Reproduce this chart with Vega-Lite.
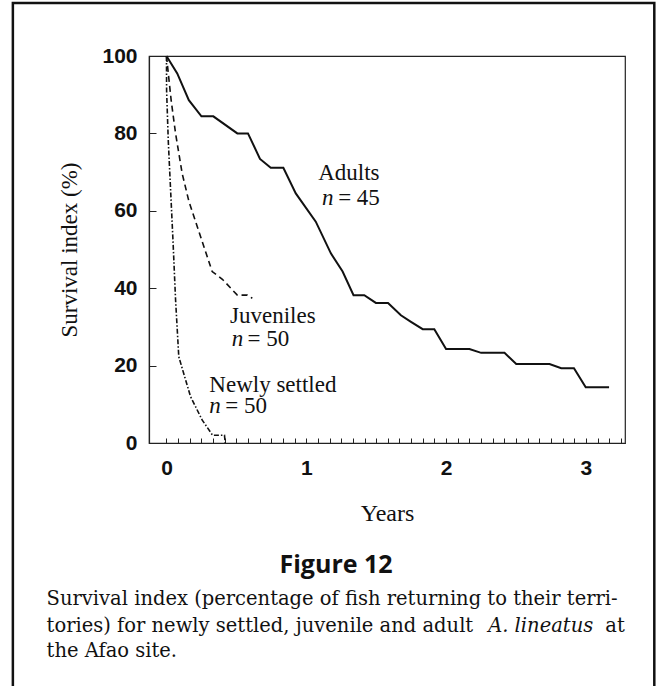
{
  "$schema": "https://vega.github.io/schema/vega-lite/v6.json",
  "autosize": {"type": "none"},
  "width": 476,
  "height": 387,
  "padding": {"left": 149, "top": 56, "right": 31, "bottom": 243},
  "background": "white",
  "config": {
    "view": {"stroke": "#222", "strokeWidth": 1.2},
    "text": {"color": "#111"}
  },
  "data": {"values": [
    {"series": "Adults", "x": 0, "y": 100},
    {"series": "Adults", "x": 0.077, "y": 95.5},
    {"series": "Adults", "x": 0.16, "y": 88.6},
    {"series": "Adults", "x": 0.25, "y": 84.4},
    {"series": "Adults", "x": 0.335, "y": 84.4},
    {"series": "Adults", "x": 0.507, "y": 80},
    {"series": "Adults", "x": 0.583, "y": 80},
    {"series": "Adults", "x": 0.669, "y": 73.4},
    {"series": "Adults", "x": 0.746, "y": 71.1},
    {"series": "Adults", "x": 0.836, "y": 71.1},
    {"series": "Adults", "x": 0.925, "y": 64.5},
    {"series": "Adults", "x": 1.068, "y": 57.2},
    {"series": "Adults", "x": 1.176, "y": 49},
    {"series": "Adults", "x": 1.26, "y": 44.3},
    {"series": "Adults", "x": 1.338, "y": 38.2},
    {"series": "Adults", "x": 1.415, "y": 38.2},
    {"series": "Adults", "x": 1.498, "y": 36.2},
    {"series": "Adults", "x": 1.585, "y": 36.2},
    {"series": "Adults", "x": 1.677, "y": 33},
    {"series": "Adults", "x": 1.749, "y": 31.3},
    {"series": "Adults", "x": 1.833, "y": 29.4},
    {"series": "Adults", "x": 1.916, "y": 29.4},
    {"series": "Adults", "x": 2.0, "y": 24.3},
    {"series": "Adults", "x": 2.167, "y": 24.3},
    {"series": "Adults", "x": 2.251, "y": 23.3},
    {"series": "Adults", "x": 2.418, "y": 23.3},
    {"series": "Adults", "x": 2.502, "y": 20.4},
    {"series": "Adults", "x": 2.74, "y": 20.4},
    {"series": "Adults", "x": 2.824, "y": 19.3},
    {"series": "Adults", "x": 2.915, "y": 19.3},
    {"series": "Adults", "x": 2.999, "y": 14.4},
    {"series": "Adults", "x": 3.166, "y": 14.4},
    {"series": "Juveniles", "x": 0, "y": 100},
    {"series": "Juveniles", "x": 0.034, "y": 88.4},
    {"series": "Juveniles", "x": 0.065, "y": 80},
    {"series": "Juveniles", "x": 0.112, "y": 69.7},
    {"series": "Juveniles", "x": 0.16, "y": 62.5},
    {"series": "Juveniles", "x": 0.327, "y": 44.3},
    {"series": "Juveniles", "x": 0.4, "y": 42.3},
    {"series": "Juveniles", "x": 0.507, "y": 38.2},
    {"series": "Juveniles", "x": 0.578, "y": 38.2},
    {"series": "Juveniles", "x": 0.614, "y": 37.4},
    {"series": "Newly settled", "x": 0, "y": 100},
    {"series": "Newly settled", "x": 0.001, "y": 91},
    {"series": "Newly settled", "x": 0.013, "y": 78},
    {"series": "Newly settled", "x": 0.03, "y": 65},
    {"series": "Newly settled", "x": 0.047, "y": 52},
    {"series": "Newly settled", "x": 0.065, "y": 37},
    {"series": "Newly settled", "x": 0.088, "y": 22.3},
    {"series": "Newly settled", "x": 0.172, "y": 12},
    {"series": "Newly settled", "x": 0.256, "y": 5.9},
    {"series": "Newly settled", "x": 0.33, "y": 2},
    {"series": "Newly settled", "x": 0.415, "y": 2},
    {"series": "Newly settled", "x": 0.42, "y": 0}
  ]},
  "encoding": {
    "x": {
      "field": "x", "type": "quantitative",
      "scale": {"domain": [-0.125, 3.28], "nice": false, "zero": false},
      "axis": {
        "title": "Years",
        "titleFont": "Liberation Serif", "titleFontSize": 24, "titleFontWeight": "normal", "titleColor": "#111",
        "titlePadding": 23,
        "values": [0, 0.0833, 0.1667, 0.25, 0.3333, 0.4167, 0.5, 0.5833, 0.6667, 0.75, 0.8333, 0.9167, 1, 1.0833, 1.1667, 1.25, 1.3333, 1.4167, 1.5, 1.5833, 1.6667, 1.75, 1.8333, 1.9167, 2, 2.0833, 2.1667, 2.25, 2.3333, 2.4167, 2.5, 2.5833, 2.6667, 2.75, 2.8333, 2.9167, 3, 3.0833, 3.1667, 3.25],
        "labelExpr": "datum.value === 0 || datum.value === 1 || datum.value === 2 || datum.value === 3 ? '' + datum.value : ''",
        "labelFont": "Liberation Sans", "labelFontWeight": "bold", "labelFontSize": 21, "labelColor": "#111",
        "labelPadding": 19, "labelFlush": false, "labelOverlap": false,
        "tickSize": -5, "tickColor": "#222", "tickWidth": 1,
        "domainColor": "#222", "domainWidth": 1.2,
        "grid": false
      }
    },
    "y": {
      "field": "y", "type": "quantitative",
      "scale": {"domain": [0, 100], "nice": false},
      "axis": {
        "title": "Survival index (%)",
        "titleFont": "Liberation Serif", "titleFontSize": 23, "titleFontWeight": "normal", "titleColor": "#111",
        "titlePadding": 20,
        "values": [0, 20, 40, 60, 80, 100],
        "labelFont": "Liberation Sans", "labelFontWeight": "bold", "labelFontSize": 21, "labelColor": "#111",
        "labelPadding": 19, "labelFlush": false,
        "tickSize": -7, "tickColor": "#222", "tickWidth": 1,
        "domainColor": "#222", "domainWidth": 1.2,
        "grid": false
      }
    }
  },
  "layer": [
    {
      "transform": [{"filter": "datum.series === 'Adults'"}],
      "mark": {"type": "line", "color": "#111", "strokeWidth": 2}
    },
    {
      "transform": [{"filter": "datum.series === 'Juveniles'"}],
      "mark": {"type": "line", "color": "#111", "strokeWidth": 1.6, "strokeDash": [6, 4]}
    },
    {
      "transform": [{"filter": "datum.series === 'Newly settled'"}],
      "mark": {"type": "line", "color": "#111", "strokeWidth": 1.6, "strokeDash": [5, 2, 1.5, 2]}
    },
    {
      "transform": [{"filter": "datum.series === 'Adults' && datum.x === 0"}],
      "mark": {"type": "rect", "fill": null, "stroke": "#111", "strokeWidth": 2.5, "clip": false},
      "encoding": {"x": {"datum": -1.0988}, "x2": {"datum": 3.4896}, "y": {"datum": 113.7}, "y2": {"datum": -66.4}}
    },
    {
      "transform": [{"filter": "datum.series === 'Adults' && datum.x === 0"}],
      "mark": {"type": "text", "text": "Adults", "font": "Liberation Serif", "fontSize": 23, "align": "left", "baseline": "alphabetic"},
      "encoding": {"x": {"datum": 1.085}, "y": {"datum": 68}}
    },
    {
      "transform": [{"filter": "datum.series === 'Adults' && datum.x === 0"}],
      "mark": {"type": "text", "text": "n", "font": "Liberation Serif", "fontSize": 23, "fontStyle": "italic", "align": "left", "baseline": "alphabetic"},
      "encoding": {"x": {"datum": 1.113}, "y": {"datum": 61.5}}
    },
    {
      "transform": [{"filter": "datum.series === 'Adults' && datum.x === 0"}],
      "mark": {"type": "text", "text": "= 45", "font": "Liberation Serif", "fontSize": 23, "align": "left", "baseline": "alphabetic"},
      "encoding": {"x": {"datum": 1.228}, "y": {"datum": 61.5}}
    },
    {
      "transform": [{"filter": "datum.series === 'Adults' && datum.x === 0"}],
      "mark": {"type": "text", "text": "Juveniles", "font": "Liberation Serif", "fontSize": 23, "align": "left", "baseline": "alphabetic"},
      "encoding": {"x": {"datum": 0.4546}, "y": {"datum": 31}}
    },
    {
      "transform": [{"filter": "datum.series === 'Adults' && datum.x === 0"}],
      "mark": {"type": "text", "text": "n", "font": "Liberation Serif", "fontSize": 23, "fontStyle": "italic", "align": "left", "baseline": "alphabetic"},
      "encoding": {"x": {"datum": 0.4667}, "y": {"datum": 25.1}}
    },
    {
      "transform": [{"filter": "datum.series === 'Adults' && datum.x === 0"}],
      "mark": {"type": "text", "text": "= 50", "font": "Liberation Serif", "fontSize": 23, "align": "left", "baseline": "alphabetic"},
      "encoding": {"x": {"datum": 0.58}, "y": {"datum": 25.1}}
    },
    {
      "transform": [{"filter": "datum.series === 'Adults' && datum.x === 0"}],
      "mark": {"type": "text", "text": "Newly settled", "font": "Liberation Serif", "fontSize": 23, "align": "left", "baseline": "alphabetic"},
      "encoding": {"x": {"datum": 0.3066}, "y": {"datum": 13.3}}
    },
    {
      "transform": [{"filter": "datum.series === 'Adults' && datum.x === 0"}],
      "mark": {"type": "text", "text": "n", "font": "Liberation Serif", "fontSize": 23, "fontStyle": "italic", "align": "left", "baseline": "alphabetic"},
      "encoding": {"x": {"datum": 0.3066}, "y": {"datum": 7.7}}
    },
    {
      "transform": [{"filter": "datum.series === 'Adults' && datum.x === 0"}],
      "mark": {"type": "text", "text": "= 50", "font": "Liberation Serif", "fontSize": 23, "align": "left", "baseline": "alphabetic"},
      "encoding": {"x": {"datum": 0.42}, "y": {"datum": 7.7}}
    },
    {
      "transform": [{"filter": "datum.series === 'Adults' && datum.x === 0"}],
      "mark": {"type": "text", "text": "Figure 12", "font": "Open Sans", "fontWeight": "bold", "fontSize": 25, "align": "center", "baseline": "alphabetic"},
      "encoding": {"x": {"datum": 1.2133}, "y": {"datum": -33.6}}
    },
    {
      "transform": [{"filter": "datum.series === 'Adults' && datum.x === 0"}],
      "mark": {"type": "text", "text": "Survival index (percentage of fish returning to their terri-", "font": "DejaVu Serif", "fontSize": 19.5, "align": "left", "baseline": "alphabetic"},
      "encoding": {"x": {"datum": -0.8576}, "y": {"datum": -41.86}}
    },
    {
      "transform": [{"filter": "datum.series === 'Adults' && datum.x === 0"}],
      "mark": {"type": "text", "text": "tories) for newly settled, juvenile and adult", "font": "DejaVu Serif", "fontSize": 19.5, "align": "left", "baseline": "alphabetic"},
      "encoding": {"x": {"datum": -0.8576}, "y": {"datum": -48.84}}
    },
    {
      "transform": [{"filter": "datum.series === 'Adults' && datum.x === 0"}],
      "mark": {"type": "text", "text": "A. lineatus", "font": "DejaVu Serif", "fontSize": 19.5, "fontStyle": "italic", "align": "left", "baseline": "alphabetic"},
      "encoding": {"x": {"datum": 2.301}, "y": {"datum": -48.84}}
    },
    {
      "transform": [{"filter": "datum.series === 'Adults' && datum.x === 0"}],
      "mark": {"type": "text", "text": "at", "font": "DejaVu Serif", "fontSize": 19.5, "align": "left", "baseline": "alphabetic"},
      "encoding": {"x": {"datum": 3.139}, "y": {"datum": -48.84}}
    },
    {
      "transform": [{"filter": "datum.series === 'Adults' && datum.x === 0"}],
      "mark": {"type": "text", "text": "the Afao site.", "font": "DejaVu Serif", "fontSize": 19.5, "align": "left", "baseline": "alphabetic"},
      "encoding": {"x": {"datum": -0.8576}, "y": {"datum": -55.3}}
    }
  ]
}
